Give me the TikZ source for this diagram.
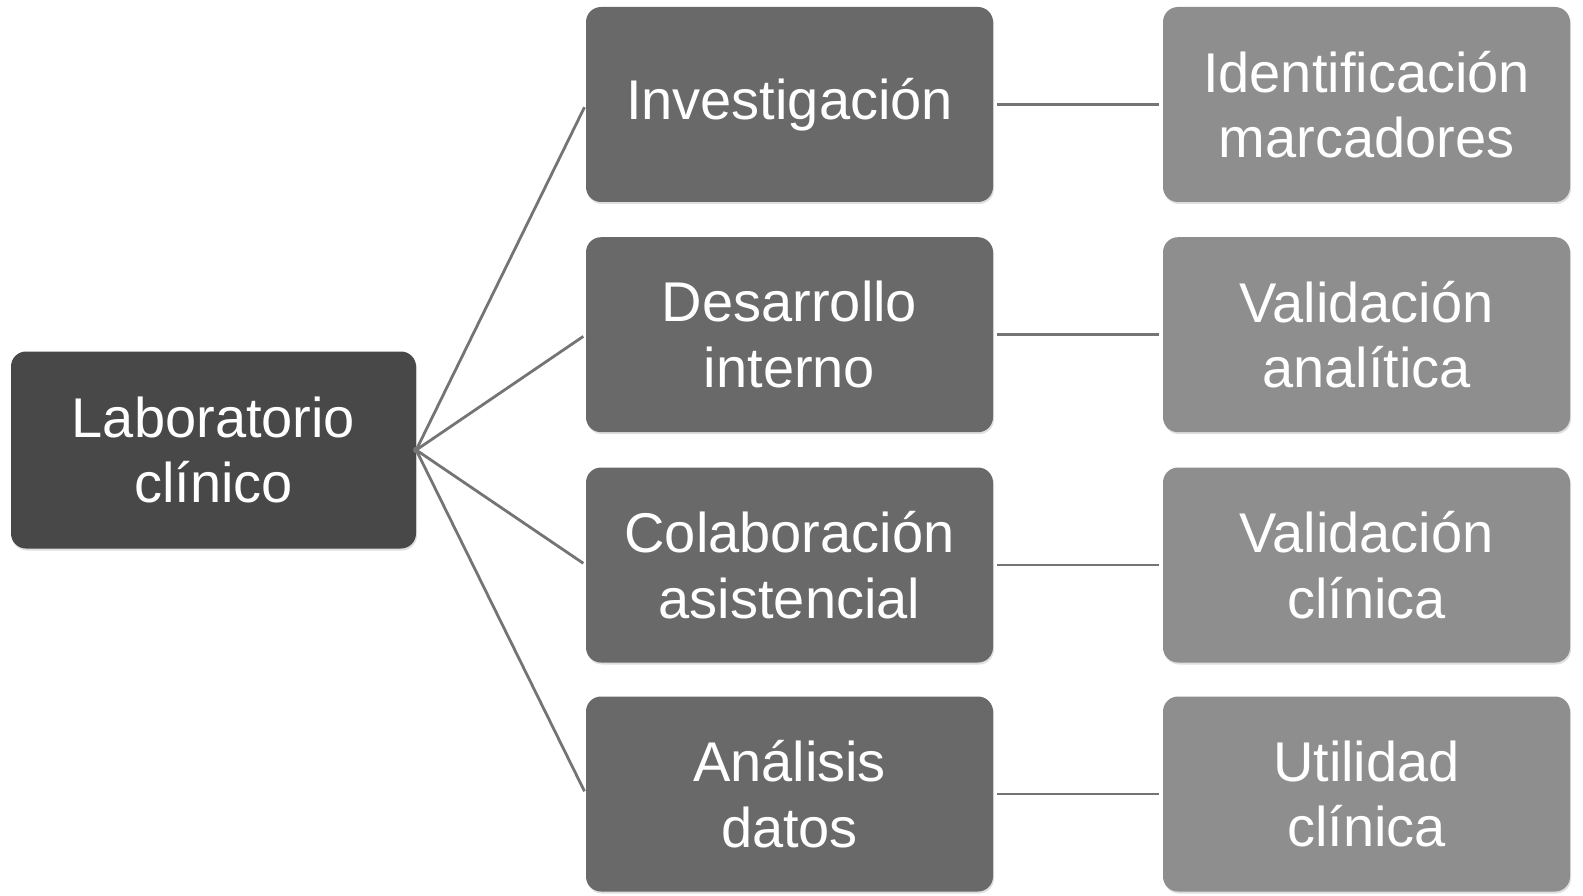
\documentclass[tikz,border=0pt]{standalone}
\usepackage{fontspec}
\setmainfont{Liberation Sans}
\usetikzlibrary{shadows}
\definecolor{rootc}{HTML}{484848}
\definecolor{midc}{HTML}{696969}
\definecolor{rightc}{HTML}{8E8E8E}
\definecolor{linec}{HTML}{747474}
\begin{document}
\begin{tikzpicture}[x=1pt,y=-1pt,
  box/.style={rounded corners=15pt, minimum height=195pt, inner sep=0pt,
    text=white, align=center, font=\fontsize{56}{65.5}\selectfont,
    drop shadow={opacity=0.25, shadow xshift=1pt, shadow yshift=-2pt}},
  rootbox/.style={box, fill=rootc, minimum width=405pt, minimum height=197pt},
  midbox/.style={box, fill=midc, minimum width=407pt},
  rightbox/.style={box, fill=rightc, minimum width=407pt},
  conn/.style={draw=linec, line width=2.8pt}]
\fill[white] (0,0) rectangle (1583,896);
\node[rootbox] (root) at (213.5,450) {Laboratorio\\clínico};
\node[midbox] (m1) at (789.5,104.5) {Investigación};
\node[midbox] (m2) at (789.5,334.7) {Desarrollo\\interno};
\node[midbox] (m3) at (789.5,565) {Colaboración\\asistencial};
\node[midbox] (m4) at (789.5,794) {Análisis\\datos};
\node[rightbox] (r1) at (1366.5,104.5) {Identificación\\marcadores};
\node[rightbox] (r2) at (1366.5,334.7) {Validación\\analítica};
\node[rightbox] (r3) at (1366.5,565) {Validación\\clínica};
\node[rightbox] (r4) at (1366.5,794) {Utilidad\\clínica};
\foreach \i in {1,...,4}{
  \draw[conn, shorten >=3pt, shorten <=-3pt] (root.east) -- (m\i.west);
  \draw[conn, shorten >=4pt, shorten <=4pt] (m\i.east) -- (r\i.west);
}
\pgfresetboundingbox
\path[use as bounding box] (0,0) rectangle (1583,896);
\end{tikzpicture}
\end{document}
